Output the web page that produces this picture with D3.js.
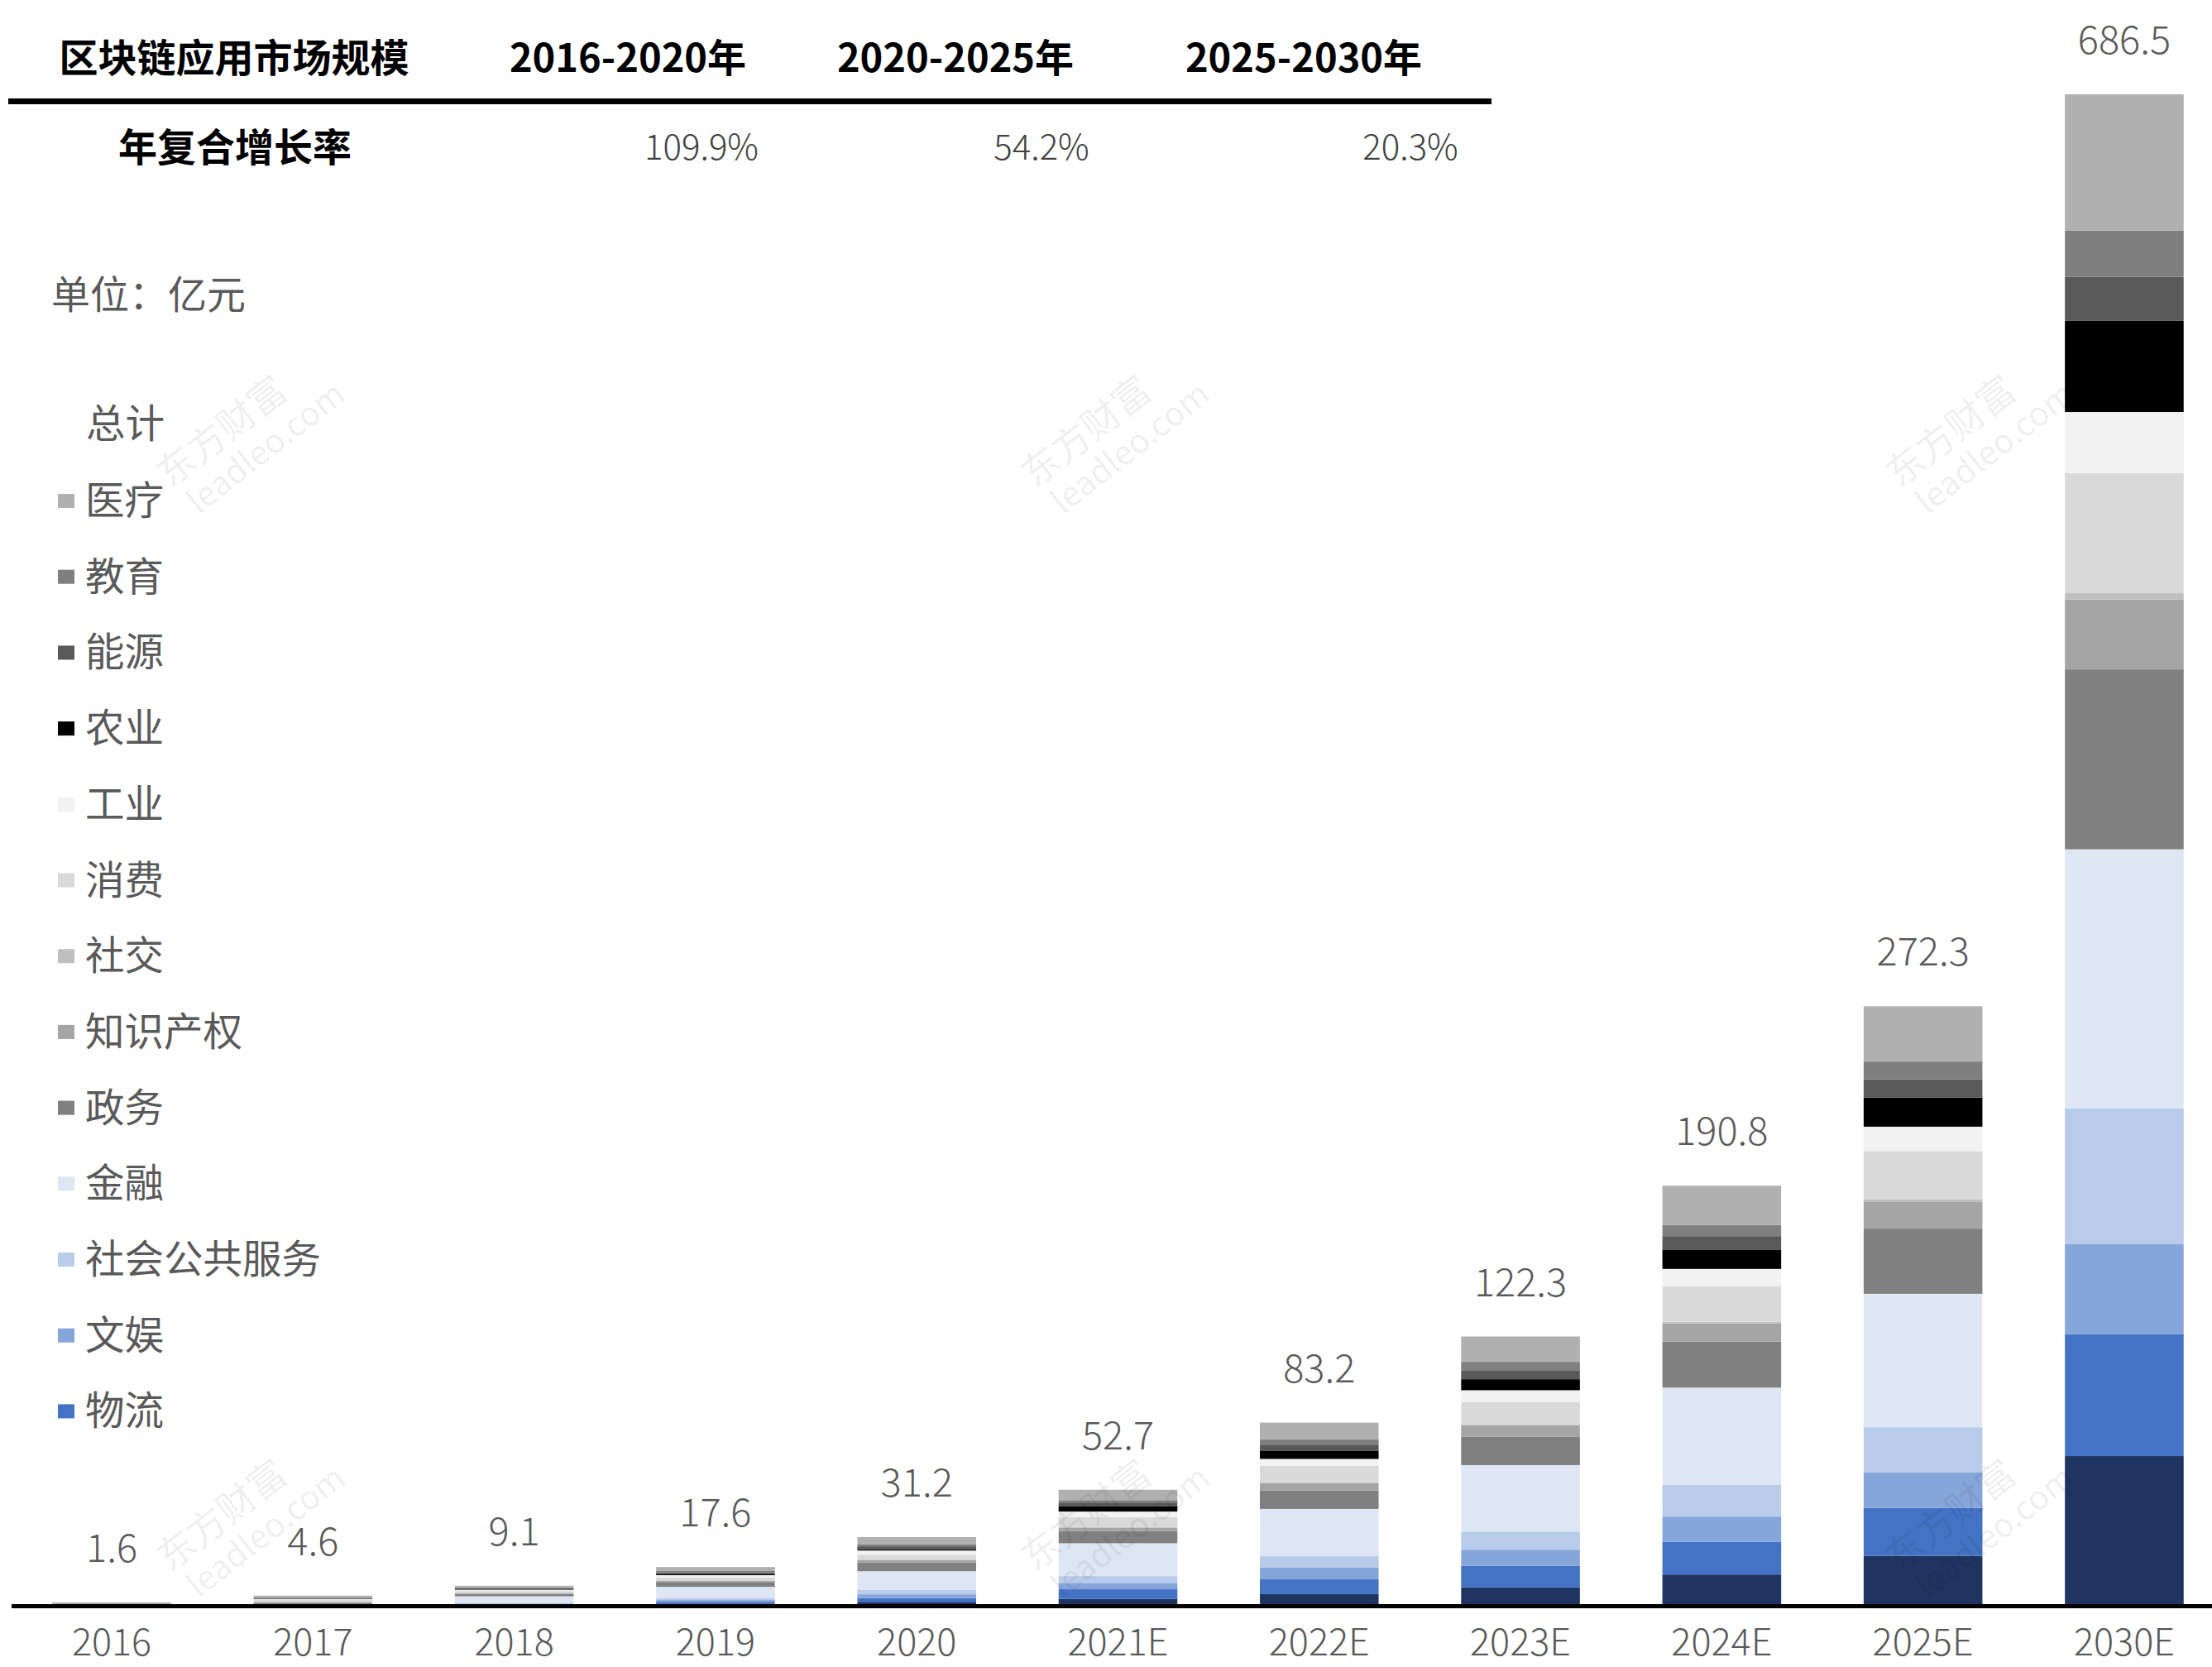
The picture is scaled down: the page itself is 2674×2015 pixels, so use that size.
<!DOCTYPE html>
<html>
<head>
<meta charset="utf-8">
<script src="https://cdn.jsdelivr.net/npm/d3@7"></script>
<style>
  body { margin: 0; background: #fff; }
  text { font-family: "Noto Sans CJK SC", "Noto Sans", sans-serif; }
</style>
</head>
<body>
<div id="chart"></div>
<script>
// data (unit: 亿元)
const years = ['2016', '2017', '2018', '2019', '2020', '2021E', '2022E', '2023E', '2024E', '2025E', '2030E'];
const totals = [1.6, 4.6, 9.1, 17.6, 31.2, 52.7, 83.2, 122.3, 190.8, 272.3, 686.5];

// series from bottom of the stack to the top
const other    = [0, 0, 0.4, 0.8, 1.5, 3.1, 5.3, 8.4, 14.2, 22.7, 68.0];
const logistics = [0, 0, 0.3, 1.0, 2.0, 4.4, 6.7, 9.7, 14.8, 21.8, 55.3];
const ent      = [0, 0, 0.3, 0.8, 1.7, 2.9, 5.3, 7.4, 11.5, 16.2, 40.9];
const publicSv = [0, 0, 0.4, 0.8, 2.0, 3.1, 5.2, 8.2, 14.4, 20.4, 61.8];
const finance  = [0, 0, 2.9, 5.2, 8.5, 14.9, 21.5, 30.2, 44.2, 60.6, 117.6];
const govt     = [0.7, 1.2, 1.1, 2.2, 3.9, 5.6, 8.3, 12.8, 20.9, 29.6, 81.7];
const ip       = [0.5, 0.5, 0.4, 0.6, 1.2, 1.5, 3.4, 5.3, 8.2, 12.1, 31.7];
const social   = [0, 0.1, 0.1, 0.1, 0.2, 0.4, 0.4, 0.4, 0.8, 1.1, 2.9];
const consume  = [0, 0.8, 0.8, 1.3, 2.2, 4.4, 7.4, 10.1, 16.2, 22.0, 54.6];
const industry = [0, 0.4, 0.6, 1.1, 1.9, 2.5, 3.2, 5.4, 7.8, 11.1, 27.7];
const agri     = [0, 0.1, 0.2, 0.4, 0.6, 2.5, 3.8, 5.0, 8.8, 13.2, 41.4];
const energy   = [0, 0.3, 0.5, 0.9, 1.3, 1.6, 2.7, 3.8, 6.1, 8.3, 20.0];
const edu      = [0, 0.3, 0.3, 0.6, 0.8, 1.1, 2.3, 4.1, 5.1, 8.1, 21.1];
const medical  = [0.4, 0.9, 0.8, 1.8, 3.4, 4.7, 7.7, 11.5, 17.8, 25.1, 61.8];

const seriesNames = ['其他', '物流', '文娱', '社会公共服务', '金融', '政务', '知识产权', '社交', '消费', '工业', '农业', '能源', '教育', '医疗'];
const seriesValues = [other, logistics, ent, publicSv, finance, govt, ip, social, consume, industry, agri, energy, edu, medical];
const seriesColors = ['#1f3461', '#4472c4', '#86a6da', '#b8cbea', '#dee6f3', '#808080', '#a5a5a5', '#bfbfbf', '#d9d9d9', '#f2f2f2', '#000000', '#595959', '#7f7f7f', '#b0b0b0'];
const legendNames = ['医疗', '教育', '能源', '农业', '工业', '消费', '社交', '知识产权', '政务', '金融', '社会公共服务', '文娱', '物流'];

// CAGR table
const tableHead = ['区块链应用市场规模', '2016-2020年', '2020-2025年', '2025-2030年'];
const tableRowLabel = '年复合增长率';
const cagr = ['109.9%', '54.2%', '20.3%'];

const width = 2674, height = 2015;
const svg = d3.select('#chart').append('svg')
  .attr('width', width)
  .attr('height', height);

// table
const headX = [283, 759, 1155, 1576];
svg.selectAll('.th')
  .data(tableHead)
  .enter()
  .append('text')
  .attr('x', (d, i) => headX[i])
  .attr('y', 87)
  .attr('text-anchor', 'middle')
  .attr('font-size', 47)
  .attr('font-weight', 700)
  .attr('fill', '#000')
  .text(d => d);

svg.append('rect')
  .attr('x', 10).attr('y', 119)
  .attr('width', 1793).attr('height', 7)
  .attr('fill', '#000');

svg.append('text')
  .attr('x', 284).attr('y', 195)
  .attr('text-anchor', 'middle')
  .attr('font-size', 47)
  .attr('font-weight', 700)
  .text(tableRowLabel);

const cagrX = [848, 1259, 1705];
svg.selectAll('.cagr')
  .data(cagr)
  .enter()
  .append('text')
  .attr('x', (d, i) => cagrX[i])
  .attr('y', 193)
  .attr('text-anchor', 'middle')
  .attr('font-size', 42)
  .attr('font-weight', 300)
  .attr('fill', '#404040')
  .text(d => d);

// unit + legend
svg.append('text')
  .attr('x', 62).attr('y', 373)
  .attr('font-size', 47)
  .attr('fill', '#595959')
  .text('单位：亿元');

svg.append('text')
  .attr('x', 104).attr('y', 529)
  .attr('font-size', 47.5)
  .attr('fill', '#595959')
  .text('总计');

const legendColor = d3.scaleOrdinal(seriesNames, seriesColors);
const legend = svg.selectAll('.lg')
  .data(legendNames)
  .enter()
  .append('g')
  .attr('transform', (d, i) => `translate(0, ${605 + i * 91.7})`);
legend.append('rect')
  .attr('x', 70).attr('y', -8)
  .attr('width', 20).attr('height', 17)
  .attr('fill', d => legendColor(d));
legend.append('text')
  .attr('x', 103).attr('y', 17)
  .attr('font-size', 47.5)
  .attr('fill', '#595959')
  .text(d => d);

// scales
const x = d3.scaleBand()
  .domain(years)
  .range([13.4, 2689.6])
  .paddingInner(0.41)
  .paddingOuter(0.205);
const y = d3.scaleLinear()
  .domain([0, d3.max(totals)])
  .range([1941, 114]);

const table = years.map((yr, i) => {
  const row = { year: yr };
  seriesNames.forEach((s, j) => { row[s] = seriesValues[j][i]; });
  return row;
});
const stacked = d3.stack().keys(seriesNames)(table);

svg.append('g')
  .selectAll('g')
  .data(stacked)
  .enter()
  .append('g')
  .attr('fill', d => legendColor(d.key))
  .selectAll('rect')
  .data(d => d)
  .enter()
  .append('rect')
  .attr('x', d => x(d.data.year))
  .attr('width', x.bandwidth())
  .attr('y', d => y(d[1]))
  .attr('height', d => y(d[0]) - y(d[1]));

// totals above bars
svg.selectAll('.total')
  .data(totals)
  .enter()
  .append('text')
  .attr('x', (d, i) => x(years[i]) + x.bandwidth() / 2)
  .attr('y', d => y(d) - 49)
  .attr('text-anchor', 'middle')
  .attr('font-size', 47)
  .attr('font-weight', 300)
  .attr('fill', '#595959')
  .text(d => d.toFixed(1));

// x axis
const xAxis = svg.append('g')
  .attr('transform', 'translate(0,1941)')
  .call(d3.axisBottom(x).tickSize(0).tickPadding(28));
xAxis.select('.domain').remove();
xAxis.selectAll('text')
  .attr('font-size', 45)
  .attr('font-weight', 300)
  .attr('fill', '#595959')
  .style('font-family', '"Noto Sans CJK SC", sans-serif');
svg.append('rect')
  .attr('x', 14).attr('y', 1939)
  .attr('width', width - 14).attr('height', 5)
  .attr('fill', '#000');

// watermarks
const marks = [[300, 530], [1345, 530], [2390, 530], [300, 1840], [1345, 1840], [2390, 1840]];
const wm = svg.selectAll('.wm')
  .data(marks)
  .enter()
  .append('g')
  .attr('transform', d => `translate(${d[0]},${d[1]}) rotate(-38)`)
  .attr('fill', '#000')
  .attr('fill-opacity', 0.08);
wm.append('text')
  .attr('x', -20).attr('y', -10)
  .attr('text-anchor', 'middle')
  .attr('font-size', 46)
  .text('东方财富');
wm.append('text')
  .attr('x', 10).attr('y', 36)
  .attr('text-anchor', 'middle')
  .attr('font-size', 40)
  .text('leadleo.com');
</script>
</body>
</html>
